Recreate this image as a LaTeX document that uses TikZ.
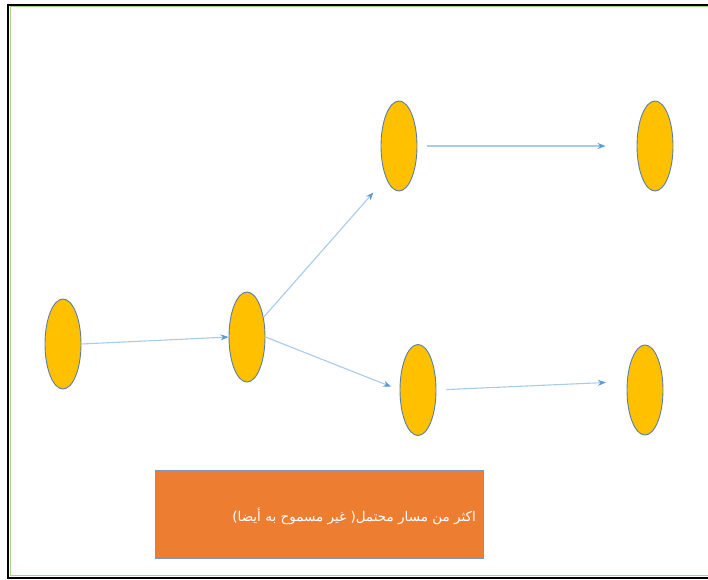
\documentclass[tikz,border=0pt]{standalone}
\usepackage{fontspec}
\newfontfamily\arabicfont[Script=Arabic]{DejaVu Sans}
\TeXXeTstate=1
\usetikzlibrary{arrows.meta,shapes.geometric}
\definecolor{ellfill}{HTML}{FFC000}
\definecolor{ellline}{HTML}{5A7FA6}
\definecolor{arrline}{HTML}{A8CBEA}
\definecolor{arrtip}{HTML}{5B9BD5}
\definecolor{boxfill}{HTML}{ED7D31}
\definecolor{boxline}{HTML}{7F97B5}
\definecolor{framegreen}{HTML}{A9D18E}
\tikzset{
  oval/.style={ellipse, draw=ellline, line width=0.9pt, fill=ellfill,
    minimum width=36pt, minimum height=90pt, inner sep=0pt},
  conn/.style={draw=arrline, line width=1.1pt,
    -{Stealth[length=8pt,width=6pt,color=arrtip,fill=arrtip]}},
  notebox/.style={rectangle, draw=boxline, line width=0.8pt, fill=boxfill,
    minimum width=328pt, minimum height=88pt, inner sep=0pt}
}
\begin{document}
\begin{tikzpicture}[x=1pt,y=-1pt]
\useasboundingbox (0,0) rectangle (708,579);
% frame
\draw[framegreen, line width=1.2pt] (708,6.8) -- (10.6,6.8) -- (10.6,575.2) -- (708,575.2);
\draw[black, line width=2pt] (708,4.5) -- (8.2,4.5) -- (8.2,577.6) -- (708,577.6);
% nodes
\node[oval] (A) at (63,344) {};
\node[oval] (B) at (247,337) {};
\node[oval] (C) at (399,146) {};
\node[oval] (D) at (655,146) {};
\node[oval, minimum height=91pt] (E) at (418,390) {};
\node[oval] (F) at (645,390) {};
% connectors
\draw[conn] (A.east) -- (B.west);
\draw[conn, shorten >=19pt] (B.50) -- (C.south west);
\draw[conn, shorten <=10pt, shorten >=31pt] (C.east) -- (D.west);
\draw[conn, shorten >=9pt] (B.east) -- (E.west);
\draw[conn, shorten <=10pt, shorten >=21pt] (E.east) -- (F.155);
% note box
\node[notebox] (N) at (319,514) {};
\node[anchor=east, text=white, inner sep=0pt, font=\arabicfont\fontsize{13.5}{16}\selectfont]
  (T) at (476,516) {\beginR اكثر من مسار محتمل( غير مسموح به أيضا)\endR};
\end{tikzpicture}
\end{document}
